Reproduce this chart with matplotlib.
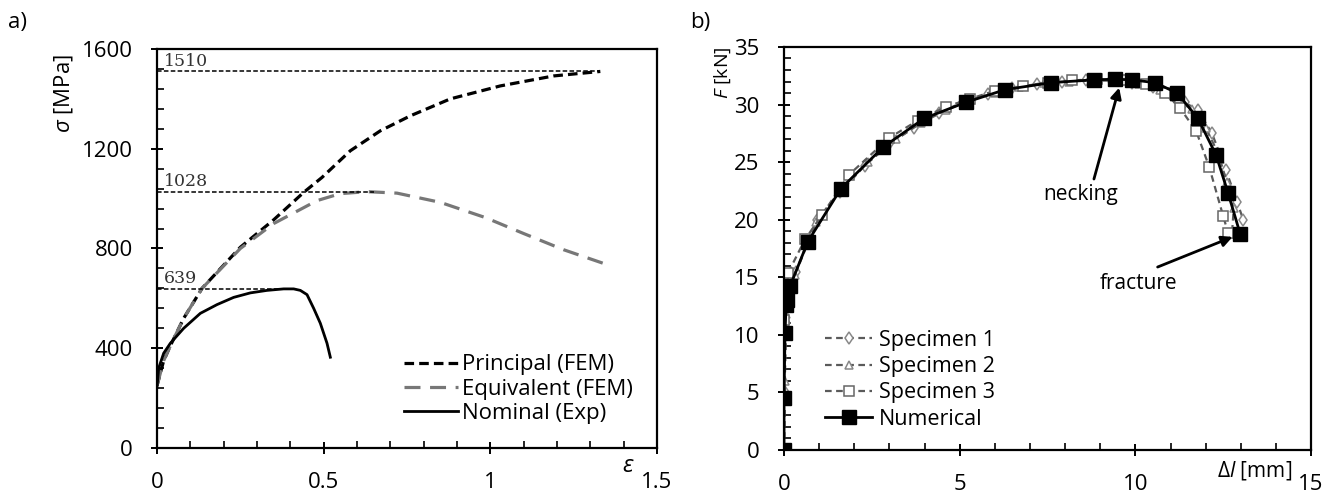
import matplotlib
matplotlib.use("Agg")
import matplotlib.pyplot as plt
from matplotlib.ticker import MultipleLocator

plt.rcParams["font.family"] = ["Open Sans", "DejaVu Sans"]
plt.rcParams["mathtext.fontset"] = "custom"
plt.rcParams["mathtext.rm"] = "Open Sans"
plt.rcParams["mathtext.it"] = "Open Sans:italic"

# ---- panel a) stress-strain ----
principal_eps = [0, 0.02, 0.04, 0.08, 0.135, 0.25, 0.35, 0.44, 0.495, 0.58, 0.67, 0.76, 0.88, 1.03, 1.19, 1.33]
principal_sig = [250, 350, 410, 520, 640, 805, 915, 1025, 1085, 1192, 1272, 1332, 1400, 1452, 1492, 1510]

equivalent_eps = [0, 0.02, 0.04, 0.08, 0.135, 0.25, 0.35, 0.48, 0.55, 0.63, 0.72, 0.85, 0.985, 1.1, 1.22, 1.34]
equivalent_sig = [250, 350, 410, 520, 640, 800, 900, 992, 1020, 1028, 1022, 985, 924, 860, 795, 740]

nominal_eps = [0, 0.005, 0.02, 0.04, 0.08, 0.13, 0.18, 0.23, 0.28, 0.33, 0.38, 0.41, 0.43, 0.45, 0.47, 0.49, 0.51, 0.52]
nominal_sig = [244, 320, 380, 420, 480, 540, 575, 604, 622, 632, 638, 638, 632, 615, 560, 500, 420, 364]

peak_values = [1510, 1028, 639]
peak_eps = [1.33, 0.65, 0.40]

# ---- panel b) force-elongation ----
spec1_dl = [0, 0.02, 0.05, 0.1, 0.35, 0.95, 1.6, 2.3, 3.0, 3.7, 4.4, 5.1, 5.8, 6.5, 7.2, 7.9, 8.6,
            9.3, 9.9, 10.5, 11.0, 11.4, 11.78, 12.18, 12.58, 12.9, 13.07]
spec1_f = [0, 5.0, 11.0, 13.5, 15.5, 20.0, 22.4, 24.7, 26.6, 28.0, 29.3, 30.2, 30.9, 31.4, 31.8, 32.0, 32.1,
           32.1, 31.9, 31.5, 30.8, 30.2, 29.5, 27.5, 24.3, 21.5, 20.0]

spec2_dl = [0, 0.02, 0.06, 0.3, 0.9, 1.7, 2.4, 3.2, 3.9, 4.6, 5.3, 6.0, 6.7, 7.4, 8.1, 8.8, 9.5,
            10.1, 10.7, 11.2, 11.6, 12.0, 12.35, 12.6, 12.8, 12.75]
spec2_f = [0, 6.0, 11.8, 15.2, 19.8, 22.9, 25.0, 27.0, 28.4, 29.5, 30.4, 31.0, 31.5, 31.9, 32.0, 32.1, 32.1,
           31.8, 31.3, 30.5, 29.6, 28.0, 25.8, 23.3, 21.0, 18.8]

spec3_dl = [0, 0.0, 0.12, 0.6, 1.08, 1.85, 2.99, 3.8, 4.6, 5.3, 6.0, 6.8, 7.5, 8.2, 8.9, 9.6,
            10.3, 10.85, 11.27, 11.73, 12.1, 12.5, 12.64]
spec3_f = [0, 11.3, 15.4, 18.3, 20.4, 23.9, 27.1, 28.6, 29.8, 30.5, 31.2, 31.6, 31.9, 32.1, 32.2, 32.1,
           31.8, 31.0, 29.7, 27.7, 24.6, 20.3, 18.85]

num_dl = [0, 0, 0.03, 0.06, 0.09, 0.17, 0.68, 1.62, 2.82, 3.99, 5.18, 6.3, 7.6, 8.82, 9.42, 9.9,
          10.56, 11.19, 11.78, 12.3, 12.64, 12.98]
num_f = [0, 4.5, 10.2, 12.6, 13.0, 14.2, 18.1, 22.7, 26.3, 28.8, 30.2, 31.3, 31.9, 32.15, 32.2, 32.15,
         31.9, 31.0, 28.8, 25.6, 22.3, 18.8]

TICK_FS = 16
GRAY = "#5a5a5a"

fig = plt.figure(figsize=(13.34, 4.93), dpi=100)
ax1 = fig.add_axes([0.1177, 0.0913, 0.3748, 0.8093])
ax2 = fig.add_axes([0.5877, 0.0872, 0.3951, 0.8175])


def style_axes(ax):
    for sp in ax.spines.values():
        sp.set_linewidth(1.6)
    ax.tick_params(which="major", direction="inout", length=9, width=1.4, labelsize=TICK_FS)
    ax.tick_params(which="minor", direction="in", length=5, width=1.2)
    ax.tick_params(axis="x", which="major", pad=13)
    ax.tick_params(axis="y", which="major", pad=13)


# panel a
ax1.plot(principal_eps, principal_sig, color="black", lw=2.3, dashes=(3, 1.6), label="Principal (FEM)")
ax1.plot(equivalent_eps, equivalent_sig, color="#777777", lw=2.3, dashes=(5, 3), label="Equivalent (FEM)")
ax1.plot(nominal_eps, nominal_sig, color="black", lw=2.0, label="Nominal (Exp)")
for val, e in zip(peak_values, peak_eps):
    ax1.plot([0, e], [val, val], color="black", lw=1.1, dashes=(3, 1.5))
    ax1.text(0.02, val + 6, str(val), family="DejaVu Serif", fontsize=12.5, color="#333333",
             ha="left", va="bottom")

ax1.set_xlim(0, 1.5)
ax1.set_ylim(0, 1600)
ax1.xaxis.set_major_locator(MultipleLocator(0.5))
ax1.xaxis.set_minor_locator(MultipleLocator(0.1))
ax1.yaxis.set_major_locator(MultipleLocator(400))
ax1.yaxis.set_minor_locator(MultipleLocator(80))
ax1.set_xticks([0, 0.5, 1, 1.5], ["0", "0.5", "1", "1.5"])
style_axes(ax1)
ax1.set_ylabel(r"$\sigma$ [MPa]", fontsize=16)
ax1.yaxis.set_label_coords(-0.165, 0.89)
ax1.text(1.415, -25, r"$\varepsilon$", fontsize=17, ha="center", va="top")
ax1.legend(loc="lower right", bbox_to_anchor=(0.952, 0.06), frameon=False, fontsize=16,
           handlelength=2.4, handletextpad=0.2, labelspacing=0.15, borderaxespad=0, borderpad=0)
fig.text(0.006, 0.955, "a)", fontsize=16, ha="left", va="center")

# panel b
mk = dict(markersize=6, markerfacecolor="white", markeredgewidth=1.1)
ax2.plot(spec1_dl, spec1_f, color=GRAY, lw=1.6, dashes=(3, 2), marker="d", markeredgecolor="#888888",
         label="Specimen 1", **mk)
ax2.plot(spec2_dl, spec2_f, color=GRAY, lw=1.6, dashes=(3, 2), marker="^", markeredgecolor="#888888",
         label="Specimen 2", **mk)
ax2.plot(spec3_dl, spec3_f, color=GRAY, lw=1.6, dashes=(3, 2), marker="s", markeredgecolor="#666666",
         label="Specimen 3", markersize=7, markerfacecolor="white", markeredgewidth=1.1)
ax2.plot(num_dl, num_f, color="black", lw=2.0, marker="s", markersize=10, label="Numerical")

ax2.annotate("", xy=(9.56, 31.7), xytext=(8.8, 23.3),
             arrowprops=dict(arrowstyle="-|>", color="black", lw=2, mutation_scale=16))
ax2.text(8.43, 22.2, "necking", fontsize=15, ha="center", va="center")
ax2.annotate("", xy=(12.84, 18.6), xytext=(10.56, 15.8),
             arrowprops=dict(arrowstyle="-|>", color="black", lw=2, mutation_scale=16))
ax2.text(10.1, 14.5, "fracture", fontsize=15, ha="center", va="center")

ax2.set_xlim(0, 15)
ax2.set_ylim(0, 35)
ax2.xaxis.set_major_locator(MultipleLocator(5))
ax2.xaxis.set_minor_locator(MultipleLocator(1))
ax2.yaxis.set_major_locator(MultipleLocator(5))
ax2.yaxis.set_minor_locator(MultipleLocator(1))
style_axes(ax2)
ax2.set_ylabel(r"$F$ [kN]", fontsize=14)
ax2.yaxis.set_label_coords(-0.097, 0.935)
ax2.text(13.4, -0.8, r"$\Delta l$ [mm]", fontsize=15, ha="center", va="top")
ax2.legend(loc="lower left", bbox_to_anchor=(0.078, 0.05), frameon=False, fontsize=15.5,
           handlelength=2.2, handletextpad=0.3, labelspacing=0.25, borderaxespad=0, borderpad=0)
fig.text(0.517, 0.955, "b)", fontsize=16, ha="left", va="center")

fig.savefig("out.png", dpi=100)
